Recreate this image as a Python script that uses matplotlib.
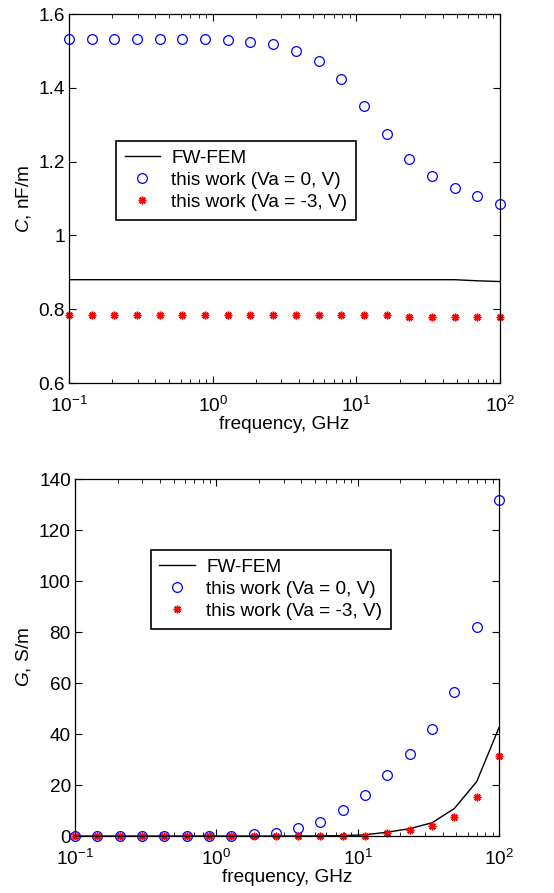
import matplotlib
matplotlib.use("Agg")
import matplotlib.pyplot as plt

plt.rcParams['font.family'] = ['Liberation Sans', 'DejaVu Sans']
plt.rcParams['mathtext.fontset'] = 'custom'
plt.rcParams['mathtext.rm'] = 'Liberation Sans'
plt.rcParams['mathtext.it'] = 'Liberation Sans:italic'
plt.rcParams['mathtext.default'] = 'regular'

freq = [0.1, 0.144, 0.207, 0.298, 0.428, 0.616, 0.886, 1.274, 1.833, 2.637,
        3.793, 5.456, 7.848, 11.29, 16.24, 23.36, 33.60, 48.33, 69.52, 100.0]

C_fem = [0.880, 0.880, 0.880, 0.880, 0.880, 0.880, 0.880, 0.880, 0.880, 0.880,
         0.880, 0.880, 0.880, 0.880, 0.880, 0.880, 0.880, 0.880, 0.877, 0.875]
C_va0 = [1.533, 1.533, 1.533, 1.533, 1.533, 1.533, 1.533, 1.530, 1.525, 1.520,
         1.501, 1.473, 1.423, 1.351, 1.275, 1.208, 1.161, 1.129, 1.107, 1.085]
C_va3 = [0.784, 0.784, 0.784, 0.784, 0.784, 0.784, 0.784, 0.784, 0.784, 0.784,
         0.784, 0.784, 0.784, 0.784, 0.784, 0.780, 0.780, 0.780, 0.780, 0.778]

G_fem = [0.0, 0.0, 0.0, 0.0, 0.0, 0.0, 0.0, 0.0, 0.0, 0.0,
         0.0, 0.05, 0.15, 0.5, 1.5, 2.9, 5.2, 10.8, 21.3, 42.5]
G_va0 = [0.0, 0.0, 0.0, 0.0, 0.0, 0.0, 0.0, 0.05, 0.6, 1.3,
         3.1, 5.5, 10.1, 16.2, 23.9, 32.1, 41.9, 56.3, 82.0, 131.6]
G_va3 = [0.0, 0.0, 0.0, 0.0, 0.0, 0.0, 0.0, 0.0, 0.0, 0.0,
         0.0, 0.0, 0.05, 0.15, 1.2, 2.2, 3.8, 7.3, 15.4, 31.5]

labels = ['FW-FEM', 'this work (Va = 0, V)', 'this work (Va = -3, V)']

FS = 13.7
fig = plt.figure(figsize=(5.54, 8.93), dpi=100)
ax1 = fig.add_axes([0.1245, 0.5711, 0.778, 0.4132])
ax2 = fig.add_axes([0.1354, 0.0638, 0.7653, 0.3998])

star = (8, 2, 0)


def draw(ax, fem, va0, va3, ylim, yticks, ytl, ylabel, legpos):
    ax.plot(freq, fem, color='black', lw=1.0, label=labels[0])
    ax.plot(freq, va0, ls='none', marker='o', ms=7.0, mfc='none', mec='#0000ff',
            mew=0.9, label=labels[1], clip_on=False)
    ax.plot(freq, va3, ls='none', marker=star, ms=5.5, color='#ff0000', mec='#ff0000',
            mew=1.1, label=labels[2], clip_on=False)
    ax.set_xscale('log')
    ax.set_xlim(0.1, 100)
    ax.set_ylim(*ylim)
    ax.set_yticks(yticks)
    ax.set_yticklabels(ytl)
    ax.tick_params(which='both', direction='in', top=True, right=True, labelsize=FS)
    ax.tick_params(which='major', length=5, width=0.8)
    ax.tick_params(which='minor', length=3, width=0.6)
    ax.tick_params(axis='x', pad=9)
    ax.tick_params(axis='y', pad=3)
    for s in ax.spines.values():
        s.set_linewidth(0.9)
    ax.set_xlabel('frequency, GHz', fontsize=FS, labelpad=0)
    ax.set_ylabel(ylabel, fontsize=FS, labelpad=4)
    leg = ax.legend(loc='upper left', bbox_to_anchor=legpos, borderaxespad=0,
                    fontsize=FS, frameon=True, fancybox=False, framealpha=1,
                    edgecolor='black', handlelength=1.85, handletextpad=0.6,
                    labelspacing=0.25, borderpad=0.45, numpoints=1)
    leg.get_frame().set_linewidth(1.2)


draw(ax1, C_fem, C_va0, C_va3, (0.6, 1.6), [0.6, 0.8, 1.0, 1.2, 1.4, 1.6],
     ['0.6', '0.8', '1', '1.2', '1.4', '1.6'], '$\\mathit{C}$, nF/m', (0.109, 0.656))
draw(ax2, G_fem, G_va0, G_va3, (0, 140), [0, 20, 40, 60, 80, 100, 120, 140],
     ['0', '20', '40', '60', '80', '100', '120', '140'], '$\\mathit{G}$, S/m', (0.179, 0.801))

fig.savefig('out.png', dpi=100)
